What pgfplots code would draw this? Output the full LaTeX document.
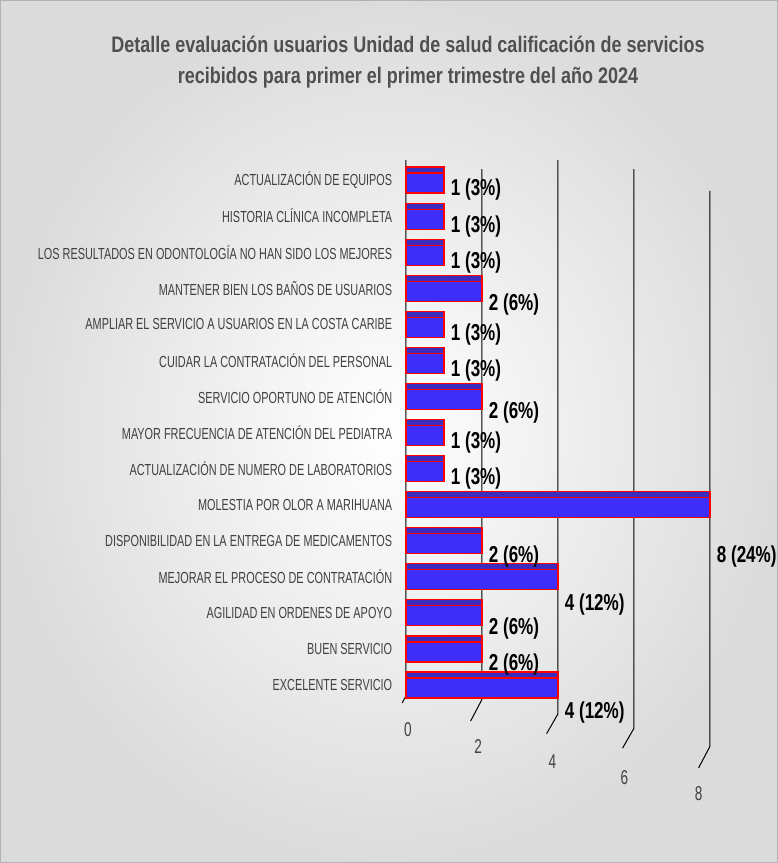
\documentclass[border=0pt]{standalone}
\usepackage{pgfplots}
\pgfplotsset{compat=1.18}
\usepackage{fontspec}
\setmainfont{Liberation Sans}[FakeStretch=0.8]
\newfontfamily\narrowfont[FakeStretch=0.68]{Liberation Sans}
\newfontfamily\valfont[FakeStretch=0.74]{Liberation Sans}
\definecolor{barblue}{RGB}{62,46,250}
\definecolor{topblue}{RGB}{58,44,190}
\definecolor{titlegray}{RGB}{80,80,80}
\definecolor{labgray}{RGB}{64,64,64}
\begin{document}
\begin{tikzpicture}
\shade[inner color=white, outer color=black!14] (0pt,0pt) rectangle (778pt,863pt);
\draw[black!30] (0.5pt,0.5pt) rectangle (777.5pt,862.5pt);
\node[align=center, text=titlegray, font=\bfseries\fontsize{22.5}{31}\selectfont] at (408pt,801pt) {Detalle evaluación usuarios Unidad de salud calificación de servicios\\recibidos para primer el primer trimestre del año 2024};
\begin{axis}[
  at={(406pt,701pt)}, anchor=north west,
  scale only axis, width=304pt, height=541pt,
  xbar, bar width=26pt,
  xmin=0, xmax=8, ymin=-0.5, ymax=14.5, y dir=reverse,
  clip=false,
  axis line style={draw=none},
  tick style={draw=none},
  xtick={0,2,4,6,8}, xticklabels={},
  ytick={0,...,14},
  yticklabels={ACTUALIZACIÓN DE EQUIPOS, HISTORIA CLÍNICA INCOMPLETA, LOS RESULTADOS EN ODONTOLOGÍA NO HAN SIDO LOS MEJORES, MANTENER BIEN LOS BAÑOS DE USUARIOS, AMPLIAR EL SERVICIO A USUARIOS EN LA COSTA CARIBE, CUIDAR LA CONTRATACIÓN DEL PERSONAL, SERVICIO OPORTUNO DE ATENCIÓN, MAYOR FRECUENCIA DE ATENCIÓN DEL PEDIATRA, ACTUALIZACIÓN DE NUMERO DE LABORATORIOS, MOLESTIA POR OLOR A MARIHUANA, DISPONIBILIDAD EN LA ENTREGA DE MEDICAMENTOS, MEJORAR EL PROCESO DE CONTRATACIÓN, AGILIDAD EN ORDENES DE APOYO, BUEN SERVICIO, EXCELENTE SERVICIO},
  yticklabel style={text=labgray, font=\narrowfont\fontsize{16}{18}\selectfont, xshift=-6pt},
]
% grid lines with perspective tails
\draw[black, line width=1pt] (axis cs:0,-0.55) -- (axis cs:0,14.3) -- (axis cs:-0.1,14.5);
\draw[black, line width=1pt] (axis cs:2,-0.3) -- (axis cs:2,14.4) -- (axis cs:1.7,15.0);
\draw[black, line width=1pt] (axis cs:4,-0.55) -- (axis cs:4,14.8) -- (axis cs:3.7,15.35);
\draw[black, line width=1pt] (axis cs:6,-0.3) -- (axis cs:6,15.2) -- (axis cs:5.7,15.75);
\draw[black, line width=1pt] (axis cs:8,0.3) -- (axis cs:8,15.7) -- (axis cs:7.7,16.3);
\addplot[fill=topblue, draw=red, line width=1.2pt, bar width=6pt, bar shift=10pt] coordinates {
(1,0) (1,1) (1,2) (2,3) (1,4) (1,5) (2,6) (1,7) (1,8) (8,9) (2,10) (4,11) (2,12) (2,13) (4,14)
};
\addplot[fill=barblue, draw=red, line width=1.2pt, bar width=20pt, bar shift=-3pt,
  point meta=explicit symbolic,
  visualization depends on={x \as \xv},
  nodes near coords,
  nodes near coords style={anchor=west, font=\valfont\bfseries\fontsize{23}{26}\selectfont, text=black, xshift=3pt, yshift={-1pt-6pt*\xv}}] coordinates {
(1,0) [1 (3\%)]
(1,1) [1 (3\%)]
(1,2) [1 (3\%)]
(2,3) [2 (6\%)]
(1,4) [1 (3\%)]
(1,5) [1 (3\%)]
(2,6) [2 (6\%)]
(1,7) [1 (3\%)]
(1,8) [1 (3\%)]
(8,9) [8 (24\%)]
(2,10) [2 (6\%)]
(4,11) [4 (12\%)]
(2,12) [2 (6\%)]
(2,13) [2 (6\%)]
(4,14) [4 (12\%)]
};
\begin{scope}[every node/.style={text=labgray, font=\narrowfont\fontsize{20}{22}\selectfont}]
\node at (axis cs:0.05,15.25) {0};
\node at (axis cs:1.9,15.72) {2};
\node at (axis cs:3.85,16.13) {4};
\node at (axis cs:5.75,16.58) {6};
\node at (axis cs:7.7,17.0) {8};
\end{scope}
\end{axis}
\pgfresetboundingbox
\useasboundingbox (0pt,0pt) rectangle (778pt,863pt);
\end{tikzpicture}
\end{document}
